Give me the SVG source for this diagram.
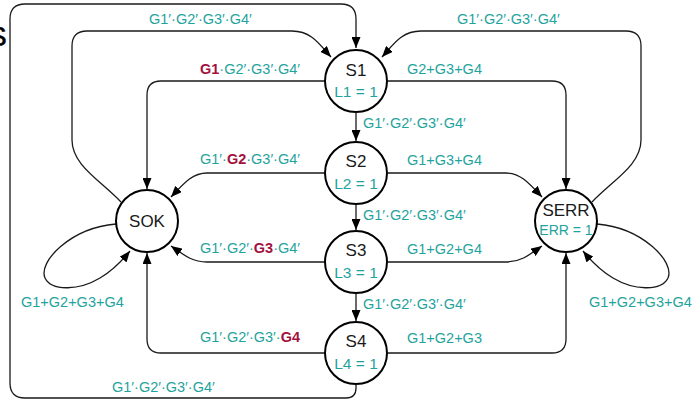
<svg xmlns="http://www.w3.org/2000/svg" width="692" height="400" viewBox="0 0 692 400">
  <style>
    .node circle { fill: #ffffff; stroke: #000000; stroke-width: 2; }
    .name { font-family: "Liberation Sans", Arial, sans-serif; font-size: 17px; fill: #1a1a1a; text-anchor: middle; }
    .out { font-family: "Liberation Sans", Arial, sans-serif; font-size: 15.5px; fill: #1fa39d; text-anchor: middle; }
    .out.small { font-size: 14px; }
    .edge { fill: none; stroke: #1a1a1a; stroke-width: 1.3; marker-end: url(#arrow); }
    .lbl { font-family: "Liberation Sans", Arial, sans-serif; font-size: 14.5px; fill: #1fa39d; }
    .hl { font-weight: bold; fill: #a3123f; }
    .title { font-family: "Liberation Sans", Arial, sans-serif; font-size: 28px; fill: #000000; stroke: #000000; stroke-width: 0.6; }
  </style>
  <defs>
    <marker id="arrow" viewBox="0 0 11 9" refX="11" refY="4.5" markerWidth="11" markerHeight="9" markerUnits="userSpaceOnUse" orient="auto">
      <path d="M0,0 L11,4.5 L0,9 z" fill="#000000"/>
    </marker>
  </defs>

  <rect width="692" height="400" fill="#ffffff"/>
  <text class="title" x="-12" y="46">S</text>

  <!-- transitions -->
  <g id="connectors">
    <!-- chain S1 -> S2 -> S3 -> S4 -->
    <path class="edge" d="M356 113 V141"/>
    <path class="edge" d="M356 204 V230"/>
    <path class="edge" d="M356 294 V321"/>

    <!-- to SOK -->
    <path class="edge" d="M325 81 H161 Q147 81 147 95 V189"/>
    <path class="edge" d="M325 173 H207 C193 173 185 182 171 197"/>
    <path class="edge" d="M325 262 H207 C193 262 185 256 171 246"/>
    <path class="edge" d="M325 353 H161 Q147 353 147 339 V253"/>

    <!-- to SERR -->
    <path class="edge" d="M388 81 H552 Q566 81 566 95 V189"/>
    <path class="edge" d="M388 173 H506 C520 173 528 182 542 197"/>
    <path class="edge" d="M388 262 H506 C520 262 528 256 542 246"/>
    <path class="edge" d="M388 353 H552 Q566 353 566 339 V253"/>

    <!-- back to S1 -->
    <path class="edge" d="M121 202 C100 180 72 165 72 140 V46 Q72 31 87 31 H292 C312 31 320 45 331 57"/>
    <path class="edge" d="M592 202 C613 180 641 165 641 140 V46 Q641 31 626 31 H421 C401 31 393 45 382 57"/>
    <path class="edge" d="M356 385 V388 Q356 398 346 398 H25 Q10 398 10 383 V19 Q10 4 25 4 H341 Q356 4 356 19 V48"/>

    <!-- self loops -->
    <path class="edge" d="M116 224 C70 228 38 262 45 278 C52 292 80 290 100 278 C112 271 121 262 130 251"/>
    <path class="edge" d="M597 224 C643 228 675 262 668 278 C661 292 633 290 613 278 C601 271 592 262 583 251"/>
  </g>

  <!-- transition conditions -->
  <g id="labels">
    <text class="lbl" x="149" y="24">G1′·G2′·G3′·G4′</text>
    <text class="lbl" x="457" y="24">G1′·G2′·G3′·G4′</text>
    <text class="lbl" x="112" y="392">G1′·G2′·G3′·G4′</text>
    <text class="lbl" x="21" y="307">G1+G2+G3+G4</text>
    <text class="lbl" x="589" y="307">G1+G2+G3+G4</text>

    <text class="lbl" x="200" y="74"><tspan class="hl">G1</tspan>·G2′·G3′·G4′</text>
    <text class="lbl" x="200" y="164">G1′·<tspan class="hl">G2</tspan>·G3′·G4′</text>
    <text class="lbl" x="200" y="253">G1′·G2′·<tspan class="hl">G3</tspan>·G4′</text>
    <text class="lbl" x="200" y="342">G1′·G2′·G3′·<tspan class="hl">G4</tspan></text>

    <text class="lbl" x="407" y="74">G2+G3+G4</text>
    <text class="lbl" x="407" y="165">G1+G3+G4</text>
    <text class="lbl" x="407" y="254">G1+G2+G4</text>
    <text class="lbl" x="407" y="343">G1+G2+G3</text>

    <text class="lbl" x="363" y="128">G1′·G2′·G3′·G4′</text>
    <text class="lbl" x="363" y="220">G1′·G2′·G3′·G4′</text>
    <text class="lbl" x="363" y="309">G1′·G2′·G3′·G4′</text>
  </g>

  <!-- states -->
  <g id="S1" class="node">
    <circle cx="356" cy="81" r="31"/>
    <text class="name" x="356" y="76">S1</text>
    <text class="out" x="356" y="97">L1 = 1</text>
  </g>
  <g id="S2" class="node">
    <circle cx="356" cy="173" r="31"/>
    <text class="name" x="356" y="167">S2</text>
    <text class="out" x="356" y="189">L2 = 1</text>
  </g>
  <g id="S3" class="node">
    <circle cx="356" cy="262" r="31"/>
    <text class="name" x="356" y="256">S3</text>
    <text class="out" x="356" y="278">L3 = 1</text>
  </g>
  <g id="S4" class="node">
    <circle cx="356" cy="353" r="31"/>
    <text class="name" x="356" y="347">S4</text>
    <text class="out" x="356" y="369">L4 = 1</text>
  </g>
  <g id="SOK" class="node">
    <circle cx="147" cy="221" r="31"/>
    <text class="name" x="147" y="227">SOK</text>
  </g>
  <g id="SERR" class="node">
    <circle cx="566" cy="221" r="31"/>
    <text class="name" x="566" y="216">SERR</text>
    <text class="out small" x="566" y="235">ERR = 1</text>
  </g>
</svg>
